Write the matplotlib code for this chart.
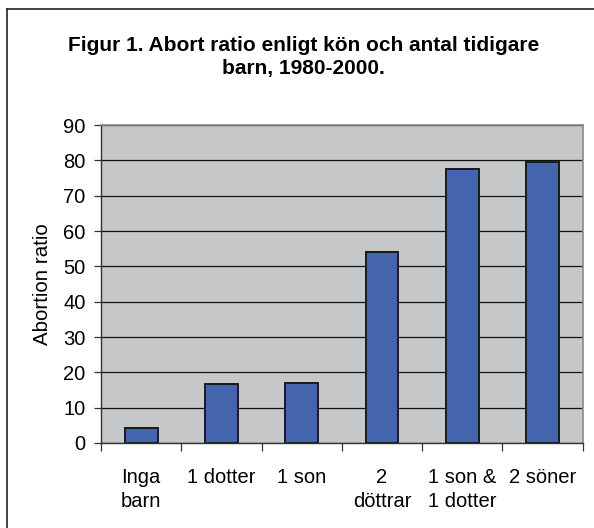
import numpy as np
import matplotlib
matplotlib.use("Agg")
import matplotlib.pyplot as plt
from matplotlib.lines import Line2D

# ----------------------------
# Data
# ----------------------------
categories = ["Inga\nbarn", "1 dotter", "1 son", "2\ndöttrar", "1 son &\n1 dotter", "2 söner"]
abortion_ratio = [4.2, 16.7, 17.1, 54.1, 77.7, 79.6]
y_ticks = [0, 10, 20, 30, 40, 50, 60, 70, 80, 90]

title = "Figur 1. Abort ratio enligt kön och antal tidigare\nbarn, 1980-2000."
ylabel = "Abortion ratio"

# ----------------------------
# Plot
# ----------------------------
plt.rcParams["font.family"] = ["Liberation Sans", "DejaVu Sans"]

fig = plt.figure(figsize=(5.94, 5.28), dpi=100)
ax = fig.add_axes([0.170, 0.161, 0.811, 0.602])

x = np.arange(len(categories))
ax.bar(x, abortion_ratio, width=0.41, color="#4464AE", edgecolor="#1a1a1a",
       linewidth=1.4, zorder=3)

ax.set_facecolor("#C6C7C9")
ax.set_xlim(-0.5, len(categories) - 0.5)
ax.set_ylim(0, 90)
ax.set_yticks(y_ticks)
ax.yaxis.grid(True, color="#111111", linewidth=0.9, zorder=1)
ax.set_axisbelow(True)

# ticks between the categories
ax.set_xticks(np.arange(len(categories) + 1) - 0.5)
ax.set_xticklabels([])
ax.set_xticks(x, minor=True)
ax.set_xticklabels(categories, minor=True, fontsize=14.5, linespacing=1.32)
ax.tick_params(axis="x", which="minor", length=0, pad=18)
ax.tick_params(axis="x", which="major", length=6, width=0.9, color="#333333")
ax.tick_params(axis="y", length=5, width=0.9, color="#333333", labelsize=14.5, pad=6)

for side in ["top", "right"]:
    ax.spines[side].set_color("#8a8a8a")
    ax.spines[side].set_linewidth(1.2)
for side in ["left", "bottom"]:
    ax.spines[side].set_color("#333333")
    ax.spines[side].set_linewidth(1.0)

ax.set_ylabel(ylabel, fontsize=14.8, labelpad=8)

fig.text(0.511, 0.892, title, ha="center", va="center", fontsize=15,
         fontweight="bold", linespacing=1.25)

# frame (top and left edges only)
fig.add_artist(Line2D([0.012, 0.012], [0.0, 0.983], transform=fig.transFigure,
                      color="#222222", linewidth=1.2))
fig.add_artist(Line2D([0.012, 1.0], [0.983, 0.983], transform=fig.transFigure,
                      color="#222222", linewidth=1.2))

fig.savefig("out.png", dpi=100)
